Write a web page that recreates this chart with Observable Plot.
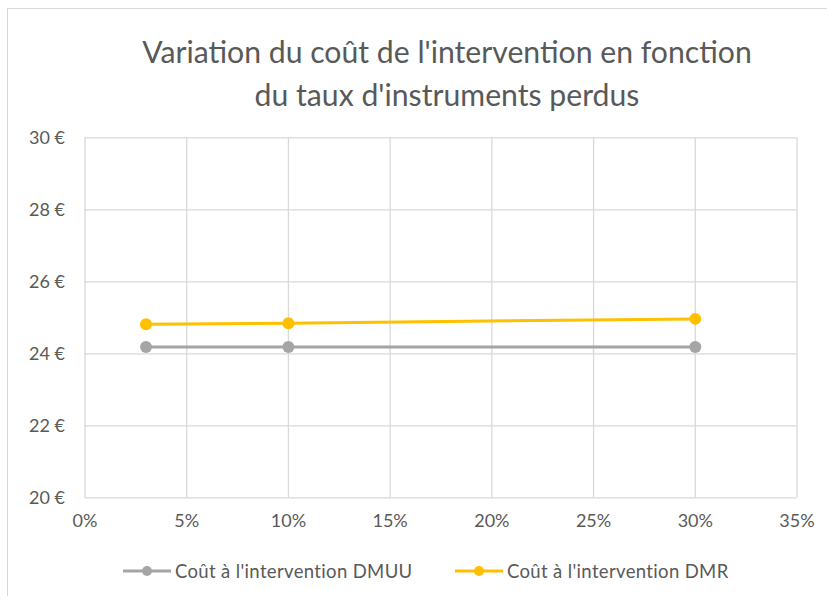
<!DOCTYPE html>
<html>
<head>
<meta charset="utf-8">
<script src="https://cdn.jsdelivr.net/npm/d3@7"></script>
<script src="https://cdn.jsdelivr.net/npm/@observablehq/plot@0.6"></script>
<style>
  html, body { margin: 0; padding: 0; background: #fff; }
  #wrap { position: relative; width: 827px; height: 596px; overflow: hidden; font-family: Lato, "Open Sans", sans-serif; color: #595959; }
  #frame { position: absolute; left: 7px; top: 8px; width: 830px; height: 600px; border: 1px solid #d9d9d9; box-sizing: border-box; }
  #title { position: absolute; left: 47px; width: 800px; top: 29.5px; text-align: center; font-size: 30.2px; line-height: 43px; color: #595959; }
  #chart { position: absolute; left: 0; top: 120px; }
  #legend { position: absolute; top: 559px; left: 0; width: 827px; height: 24px; font-size: 18.5px; letter-spacing: 0.35px; }
  .item { position: absolute; top: 0; display: flex; align-items: center; height: 24px; }
  .item svg { margin-right: 4px; }
</style>
</head>
<body>
<div id="wrap">
  <div id="frame"></div>
  <div id="title">Variation du coût de l'intervention en fonction<br>du taux d'instruments perdus</div>
  <div id="chart"></div>
  <div id="legend"></div>
</div>
<script>
const rates = [0.03, 0.10, 0.30];
const costDMUU = [24.19, 24.19, 24.19];
const costDMR = [24.82, 24.85, 24.97];
const seriesNames = ["Coût à l'intervention DMUU", "Coût à l'intervention DMR"];
const seriesColors = ["#A5A5A5", "#FFC000"];
const xTicks = [0, 0.05, 0.10, 0.15, 0.20, 0.25, 0.30, 0.35];
const yTicks = [20, 22, 24, 26, 28, 30];

const data = [];
rates.forEach((r, i) => {
  data.push({rate: r, cost: costDMUU[i], series: seriesNames[0]});
  data.push({rate: r, cost: costDMR[i], series: seriesNames[1]});
});

const plot = Plot.plot({
  width: 827,
  height: 420,
  marginLeft: 84.5,
  marginRight: 30.5,
  marginTop: 17.3,
  marginBottom: 42.7,
  style: { fontFamily: "Lato, 'Open Sans', sans-serif", fontSize: "18px", color: "#595959", background: "transparent" },
  x: { domain: [0, 0.35], label: null },
  y: { domain: [20, 30], label: null },
  color: { domain: seriesNames, range: seriesColors },
  marks: [
    Plot.gridX(xTicks, { stroke: "#d9d9d9", strokeOpacity: 1, strokeWidth: 1.3 }),
    Plot.gridY(yTicks, { stroke: "#d9d9d9", strokeOpacity: 1, strokeWidth: 1.3 }),
    Plot.axisX({ ticks: xTicks, tickFormat: d3.format(".0%"), tickSize: 0, tickPadding: 16, fill: "#595959", label: null }),
    Plot.axisY({ ticks: yTicks, tickFormat: d => d + " €", tickSize: 0, tickPadding: 20, fill: "#595959", label: null }),
    Plot.line(data, { x: "rate", y: "cost", stroke: "series", z: "series", strokeWidth: 3 }),
    Plot.dot(data, { x: "rate", y: "cost", fill: "series", r: 6 })
  ]
});
document.getElementById("chart").appendChild(plot);

const legend = document.getElementById("legend");
const lefts = [123, 455];
seriesNames.forEach((name, i) => {
  const item = document.createElement("div");
  item.className = "item";
  item.style.left = lefts[i] + "px";
  item.innerHTML = `<svg width="48" height="14"><line x1="0" y1="7" x2="48" y2="7" stroke="${seriesColors[i]}" stroke-width="3"/><circle cx="24" cy="7" r="5" fill="${seriesColors[i]}"/></svg><span>${name}</span>`;
  legend.appendChild(item);
});
</script>
</body>
</html>
